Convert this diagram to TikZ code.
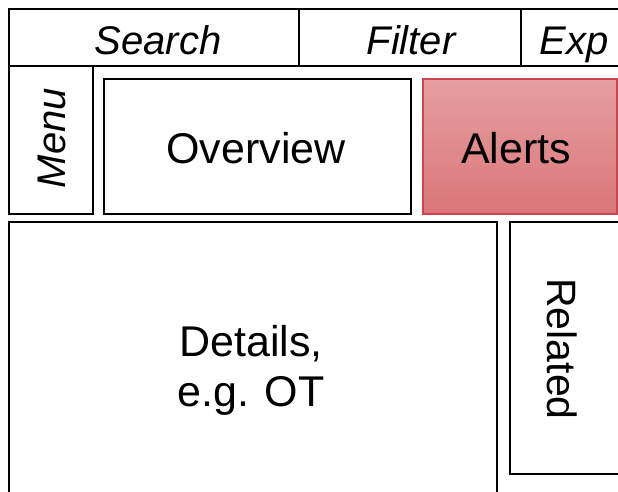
\documentclass[tikz,border=0pt]{standalone}
\usepackage{fontspec}
\setmainfont{Liberation Sans}
\definecolor{alerttop}{HTML}{E69EA0}
\definecolor{alertbot}{HTML}{DA777A}
\definecolor{alertline}{HTML}{CC4451}
\tikzset{
  pane/.style={draw=black,line width=2.6pt},
  lbl/.style={inner sep=0pt,font=\fontsize{43}{50}\selectfont},
  ilbl/.style={lbl,font=\fontsize{40}{50}\selectfont\itshape}
}
\begin{document}
\begin{tikzpicture}[x=1pt,y=-1pt]
  \useasboundingbox (0,0) rectangle (618,492);
  \fill[white] (0,0) rectangle (618,492);
  \clip (0,0) rectangle (618,492);
  % top bar
  \draw[pane] (9,9) rectangle (640,66);
  \draw[pane] (299,9) -- (299,66);
  \draw[pane] (521,9) -- (521,66);
  \node (search) [ilbl,anchor=base] at (158,55) {Search};
  \node (filter) [ilbl,anchor=base] at (411,55) {Filter};
  \node (exp) [ilbl,anchor=base] at (574,55) {Exp};
  % middle row
  \draw[pane] (9,66) rectangle (93,214);
  \node (menu) [ilbl,rotate=90] at (52,138) {Menu};
  \draw[pane] (104,79) rectangle (411,214);
  \node (overview) [lbl,anchor=base] at (256,163) {Overview};
  \shade[top color=alerttop,bottom color=alertbot] (423,79) rectangle (617,214);
  \draw[alertline,line width=1.6pt] (423,79) rectangle (617,214);
  \node (alerts) [lbl,anchor=base] at (516,163) {Alerts};
  % bottom row
  \draw[pane] (9,222) rectangle (497,520);
  \node (details) [lbl,align=center] at (251,370) {Details,\\e.g. OT};
  \draw[pane] (510,222) rectangle (640,474);
  \node (related) [lbl,rotate=-90,font=\fontsize{41}{50}\selectfont] at (562,349) {Related};
\end{tikzpicture}
\end{document}
